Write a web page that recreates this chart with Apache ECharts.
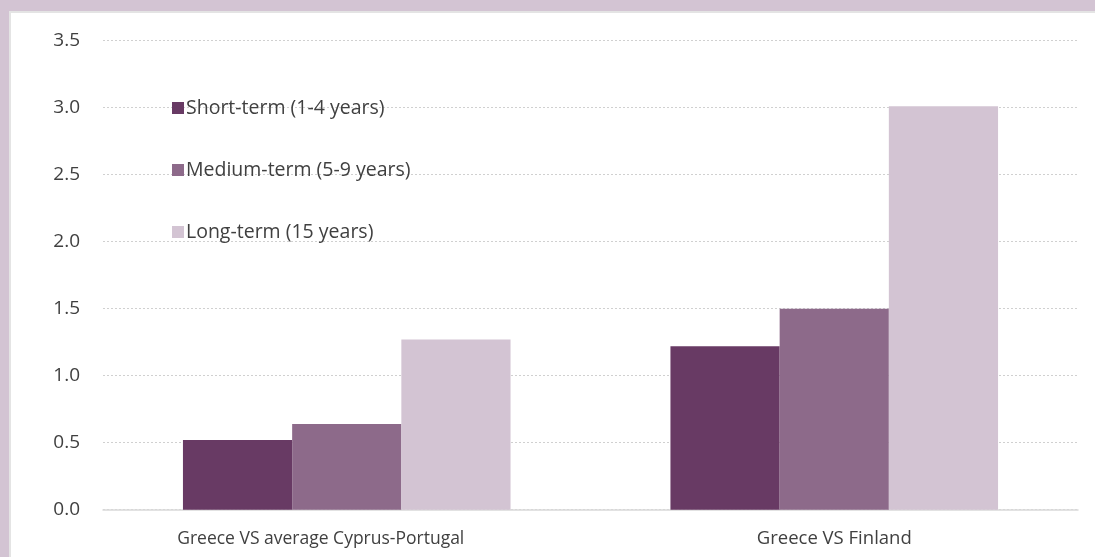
<!DOCTYPE html>
<html>
<head>
<meta charset="utf-8">
<script src="https://cdn.jsdelivr.net/npm/echarts@6/dist/echarts.min.js"></script>
<style>
  html, body { margin: 0; padding: 0; background: #D3C4D3; }
  #chart { width: 1095px; height: 557px; }
</style>
</head>
<body>
<div id="chart"></div>
<script>
// Comparisons along the x axis
const categories = ['Greece VS average Cyprus-Portugal', 'Greece VS Finland'];

// Spread values per maturity bucket
const shortTerm = [0.52, 1.22];
const mediumTerm = [0.64, 1.50];
const longTerm = [1.27, 3.01];

const seriesNames = ['Short-term (1-4 years)', 'Medium-term (5-9 years)', 'Long-term (15 years)'];
const seriesColors = ['#683A64', '#8D6A8A', '#D3C4D3'];

const font = '"Open Sans", "Noto Sans", sans-serif';
const textColor = '#404040';

const chart = echarts.init(document.getElementById('chart'));

const values = [shortTerm, mediumTerm, longTerm];

chart.setOption({
  backgroundColor: '#D3C4D3',
  animation: false,
  graphic: [{
    type: 'rect',
    z: -10,
    shape: { x: 10, y: 12, width: 1100, height: 560 },
    style: { fill: '#ffffff', stroke: '#e4e4e4', lineWidth: 2 }
  }],
  grid: { left: 103, right: 17, top: 40.7, bottom: 47.3 },
  legend: {
    orient: 'vertical',
    left: 167,
    top: 92,
    itemWidth: 12,
    itemHeight: 12,
    itemGap: 40,
    icon: 'rect',
    textStyle: { fontFamily: font, fontSize: 19.5, color: textColor, lineHeight: 22, padding: [0, 0, 0, -3] },
    data: seriesNames
  },
  xAxis: {
    type: 'category',
    data: categories,
    axisLine: { lineStyle: { color: '#d9d9d9', width: 1.5 } },
    axisTick: { show: false },
    axisLabel: {
      fontFamily: font, fontSize: 17.5, color: textColor, margin: 20,
      // the long first label sits slightly left of its category centre
      formatter: (v, i) => i === 0 ? '{w|' + v + '}' : '{n|' + v + '}',
      rich: {
        w: { fontFamily: font, fontSize: 17.5, color: textColor, padding: [0, 52, 0, 0] },
        n: { fontFamily: font, fontSize: 18.5, color: textColor }
      }
    }
  },
  yAxis: {
    type: 'value',
    min: 0,
    max: 3.5,
    interval: 0.5,
    axisLine: { show: false },
    axisTick: { show: false },
    axisLabel: {
      fontFamily: font, fontSize: 19, color: textColor, margin: 23,
      formatter: v => v.toFixed(1)
    },
    splitLine: { lineStyle: { color: '#d0d0d0', type: [2, 2], width: 1 } }
  },
  series: values.map((d, i) => ({
    name: seriesNames[i],
    type: 'bar',
    data: d,
    barWidth: '22.4%',
    barGap: '0%',
    itemStyle: { color: seriesColors[i] }
  }))
});
</script>
</body>
</html>
